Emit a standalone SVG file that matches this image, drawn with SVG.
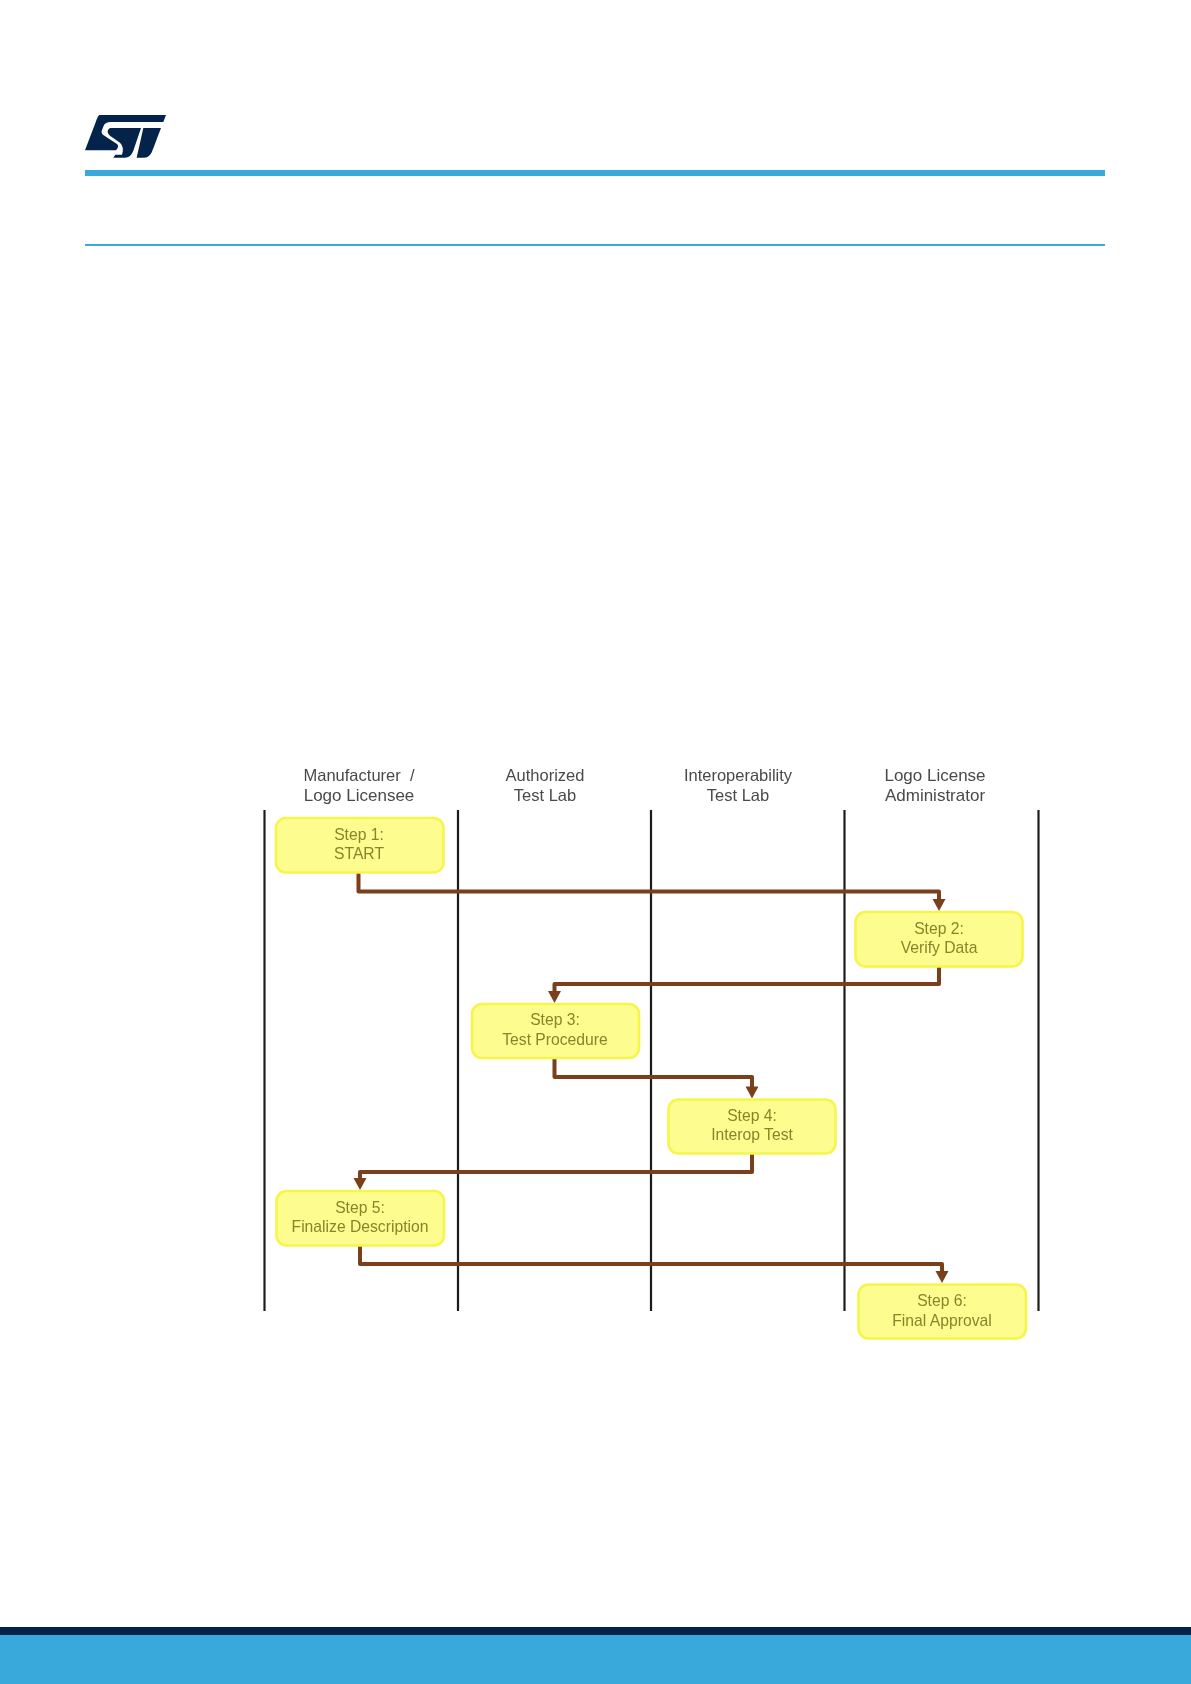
<svg xmlns="http://www.w3.org/2000/svg" width="1191" height="1684" viewBox="0 0 1191 1684">
<defs><filter id="soft" x="-2%" y="-2%" width="104%" height="104%"><feGaussianBlur stdDeviation="0.45"/></filter></defs>
<style>
.lane{stroke:#1c1c1c;stroke-width:2.200;fill:none}
.box rect{fill:#fdfc8e;stroke:#f5f54c;stroke-width:2.600}
.box text{font:15.700px "Liberation Sans",Arial,sans-serif;fill:#85852c;text-anchor:middle}
.hd{font:16.500px "Liberation Sans",Arial,sans-serif;fill:#4a4a4a;text-anchor:middle}
.hw{font-size:17px}
.c{fill:none;stroke:#7a3f1e;stroke-width:4;stroke-linejoin:round}
.a{fill:#7a3f1e}
</style>
<rect width="1191" height="1684" fill="#fff"/>
<g id="header">
<g id="logo" transform="translate(80 110) scale(.3333)" fill="#03234b">
<path d="M58 15H258L250 36H92Q76 36 71 47L66 60Q62 70 71 76L112 103Q118 110 108 121H15L47 37Q52 20 58 15Z"/>
<path d="M92 54H183L160 122Q152 143 135 143H100L106 134H126Q134 112 120 98L90 77Q80 68 84 60Q87 54 92 54Z"/>
<path d="M190 54H243L216 125Q209 143 190 143H170Z"/>
</g>
<rect x="85" y="170" width="1020" height="6" fill="#39a9dc"/>
<rect x="85" y="244" width="1020" height="2" fill="#39a9dc"/>
</g>
<g filter="url(#soft)">
<g id="lanes">
<path class="lane" d="M264.500 810V1311M458 810V1311M651 810V1311M844.500 810V1311M1038.500 810V1311"/>
</g>
<g id="headers">
<text class="hd" x="359" y="781">Manufacturer&#160;&#160;/</text><text class="hd hw" x="359" y="801">Logo Licensee</text>
<text class="hd" x="545" y="781">Authorized</text><text class="hd" x="545" y="801">Test Lab</text>
<text class="hd" x="738" y="781">Interoperability</text><text class="hd" x="738" y="801">Test Lab</text>
<text class="hd hw" x="935" y="781">Logo License</text><text class="hd hw" x="935" y="801">Administrator</text>
</g>
<g id="connectors">
<path class="c" d="M358.500 873V891.500H939V900"/><path class="a" d="M932.500 899H945.500L939 911Z"/>
<path class="c" d="M939 967V984H554.500V992"/><path class="a" d="M548 991H561L554.500 1003Z"/>
<path class="c" d="M554.500 1058V1077H752V1087"/><path class="a" d="M745.500 1086.500H758.500L752 1098.500Z"/>
<path class="c" d="M752 1154V1172H360V1179"/><path class="a" d="M353.500 1178H366.500L360 1190Z"/>
<path class="c" d="M360 1246V1264H942V1272"/><path class="a" d="M935.500 1271H948.500L942 1283Z"/>
</g>
<g id="step1" class="box"><rect x="276" y="818" width="167.500" height="54.500" rx="10"/><text x="359" y="840">Step 1:</text><text x="359" y="859">START</text></g>
<g id="step2" class="box"><rect x="855.500" y="912" width="167" height="54.500" rx="10"/><text x="939" y="934">Step 2:</text><text x="939" y="953">Verify Data</text></g>
<g id="step3" class="box"><rect x="472" y="1004" width="167" height="54" rx="10"/><text x="555" y="1025">Step 3:</text><text x="555" y="1045">Test Procedure</text></g>
<g id="step4" class="box"><rect x="668.500" y="1099.500" width="167" height="54" rx="10"/><text x="752" y="1121">Step 4:</text><text x="752" y="1140">Interop Test</text></g>
<g id="step5" class="box"><rect x="276.500" y="1191" width="167.500" height="54.500" rx="10"/><text x="360" y="1213">Step 5:</text><text x="360" y="1232">Finalize Description</text></g>
<g id="step6" class="box"><rect x="858.500" y="1284.500" width="167.500" height="54" rx="10"/><text x="942" y="1306">Step 6:</text><text x="942" y="1326">Final Approval</text></g>
</g>
<g id="footer">
<rect y="1627" width="1191" height="8" fill="#03234b"/>
<rect y="1635" width="1191" height="49" fill="#39a9dc"/>
</g>
</svg>
